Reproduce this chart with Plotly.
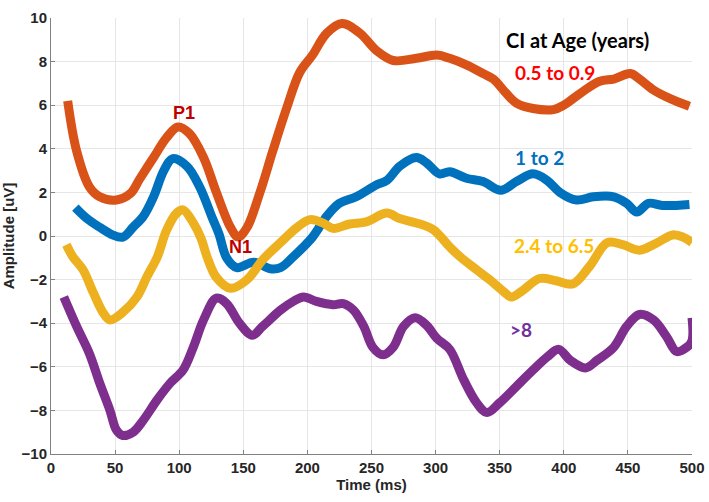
import plotly.graph_objects as go

# ---- data ----
t_a = [13,20,30,38,51,62,69,80,90,99,108,119,129,140,146,153,163,173,184,194,204,215,227,241,254,267,285,301,311,324,337,345,355,363,376,392,400,413,428,439,452,459,470,483,498]
v_a = [6.2,3.9,2.25,1.8,1.65,1.95,2.6,3.6,4.5,5.0,4.7,3.6,2.0,0.4,-0.05,0.4,2.0,3.9,5.9,7.5,8.3,9.3,9.75,9.3,8.5,8.05,8.15,8.3,8.15,7.85,7.45,7.2,6.55,6.1,5.85,5.8,6.0,6.55,7.1,7.2,7.45,7.2,6.7,6.3,5.95]

t_b = [19,28,38,48,56,64,72,80,88,95,106,116,126,131,137,145,158,171,179,189,204,215,225,238,254,262,272,285,293,303,311,324,337,351,363,376,387,397,410,423,439,449,457,466,477,498]
v_b = [1.3,0.8,0.4,0.05,-0.05,0.4,0.9,1.8,3.0,3.55,3.2,2.25,0.8,0.1,-1.0,-1.45,-1.2,-1.5,-1.45,-0.95,-0.05,0.9,1.5,1.8,2.35,2.55,3.2,3.6,3.35,2.85,2.95,2.65,2.5,2.1,2.5,2.85,2.55,2.0,1.65,1.8,1.8,1.5,1.1,1.5,1.4,1.45]

t_c = [12,17,25,33,41,46,56,67,75,83,90,98,103,111,117,122,129,140,153,165,179,192,202,212,220,233,246,262,272,285,298,311,319,332,342,353,359,368,381,394,407,420,434,446,459,473,485,493,500]
v_c = [-0.4,-0.95,-1.55,-2.6,-3.55,-3.85,-3.5,-2.8,-1.85,-0.95,0.25,1.05,1.2,0.6,-0.1,-1.0,-1.9,-2.4,-2.0,-1.1,-0.3,0.4,0.75,0.6,0.35,0.55,0.65,1.05,0.8,0.6,0.3,-0.5,-0.95,-1.55,-2.0,-2.55,-2.8,-2.5,-1.95,-2.05,-2.2,-1.4,-0.3,-0.4,-0.65,-0.3,0.05,-0.05,-0.3]

t_d = [10,20,30,38,46,51,56,64,72,83,93,103,111,119,129,137,147,157,165,179,189,197,207,220,228,236,244,251,259,267,275,284,293,301,311,322,332,340,350,363,376,387,396,405,417,426,439,449,459,470,480,488,496,500,500]
v_d = [-2.8,-4.15,-5.4,-6.75,-8.0,-8.9,-9.15,-9.0,-8.45,-7.5,-6.75,-6.15,-5.1,-3.85,-2.85,-3.1,-4.0,-4.55,-4.15,-3.4,-3.0,-2.8,-3.0,-3.15,-3.1,-3.4,-4.15,-5.1,-5.45,-5.1,-4.15,-3.75,-4.1,-4.7,-5.2,-6.6,-7.65,-8.1,-7.65,-6.9,-6.15,-5.55,-5.2,-5.7,-6.05,-5.7,-5.1,-4.15,-3.6,-3.85,-4.6,-5.3,-5.1,-4.8,-3.75]

series_names = ["0.5 to 0.9", "1 to 2", "2.4 to 6.5", ">8"]
series_colors = ["#D95319", "#0072BD", "#EDB120", "#7E2F8E"]
label_colors = ["#FF0000", "#0070C0", "#FFC000", "#7030A0"]
label_t = [393, 381, 392, 367]
label_v = [7.5, 3.6, -0.45, -4.3]

peak_names = ["P1", "N1", "P2"]
peak_t = [104, 148, 231]
peak_v = [5.65, -0.5, 10.3]

x_ticks = list(range(0, 501, 50))
y_ticks = list(range(-10, 11, 2))

ARIAL = "Liberation Sans"

fig = go.Figure()
for t, v, name, col in zip([t_a, t_b, t_c, t_d], [v_a, v_b, v_c, v_d], series_names, series_colors):
    fig.add_trace(go.Scatter(x=t, y=v, mode="lines", name=name,
                             line=dict(color=col, width=9, shape="spline", smoothing=1.0),
                             showlegend=False))

for name, tx, vy, col in zip(series_names, label_t, label_v, label_colors):
    fig.add_annotation(x=tx, y=vy, xref="x", yref="y", text=name.replace(">", "&gt;"),
                       showarrow=False, font=dict(family="Lato", size=19, color=col, weight="bold"))

fig.add_annotation(x=411, y=9.0, xref="x", yref="y", text="CI at Age (years)",
                   showarrow=False, font=dict(family="Lato", size=20, color="#000000", weight="bold"))

for name, tx, vy in zip(peak_names, peak_t, peak_v):
    fig.add_annotation(x=tx, y=vy, xref="x", yref="y", text=name,
                       showarrow=False, font=dict(family=ARIAL, size=18, color="#C00000", weight="bold"))

axis_font = dict(family=ARIAL, size=15, color="#262626", weight="bold")
fig.update_layout(
    width=709, height=502,
    margin=dict(l=51, r=17, t=18, b=48),
    paper_bgcolor="white", plot_bgcolor="white",
    font=dict(family=ARIAL),
    xaxis=dict(range=[0, 500], tickvals=x_ticks, automargin=False,
               showgrid=True, gridcolor="#E6E6E6", gridwidth=1,
               showline=True, linecolor="#808080", linewidth=1,
               ticks="inside", ticklen=4, tickcolor="#808080",
               tickfont=axis_font, zeroline=False,
               title=dict(text="Time (ms)", font=axis_font, standoff=4)),
    yaxis=dict(range=[-10, 10], tickvals=y_ticks, automargin=False,
               showgrid=True, gridcolor="#E6E6E6", gridwidth=1,
               showline=True, linecolor="#808080", linewidth=1,
               ticks="inside", ticklen=4, tickcolor="#808080",
               tickfont=axis_font, zeroline=False,
               title=dict(text="Amplitude [uV]", font=axis_font, standoff=4)),
)
fig.write_html("out.html")
